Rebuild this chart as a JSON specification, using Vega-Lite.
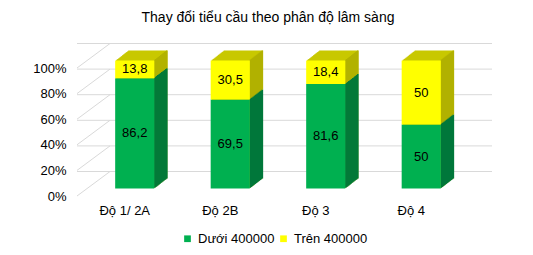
{
  "$schema": "https://vega.github.io/schema/vega-lite/v6.json",
  "width": 382,
  "height": 128,
  "autosize": "none",
  "padding": {"left": 77, "top": 68, "right": 74, "bottom": 59},
  "background": "white",
  "title": {"text": "Thay đổi tiểu cầu theo phân độ lâm sàng", "font": "Liberation Sans", "fontSize": 14, "fontWeight": "normal", "color": "#000000", "anchor": "middle", "offset": 18},
  "config": {
    "view": {"stroke": null},
    "font": "Liberation Sans",
    "locale": {"number": {"decimal": ",", "thousands": ".", "grouping": [3], "currency": ["", ""]}},
    "axisX": {"domain": false, "ticks": false, "grid": false, "labelAngle": 0, "labelPadding": 8, "labelFontSize": 13, "labelColor": "#000000", "labelFont": "Liberation Sans"},
    "axisY": {"domain": false, "ticks": false, "grid": false, "labelExpr": "datum.value + '%'", "labelPadding": 11, "labelFontSize": 13, "labelColor": "#000000", "labelFont": "Liberation Sans"}
  },
  "data": {"values": [
    {"cat": "Độ 1/ 2A", "series": "Dưới 400000", "value": 86.2},
    {"cat": "Độ 1/ 2A", "series": "Trên 400000", "value": 13.8},
    {"cat": "Độ 2B", "series": "Dưới 400000", "value": 69.5},
    {"cat": "Độ 2B", "series": "Trên 400000", "value": 30.5},
    {"cat": "Độ 3", "series": "Dưới 400000", "value": 81.6},
    {"cat": "Độ 3", "series": "Trên 400000", "value": 18.4},
    {"cat": "Độ 4", "series": "Dưới 400000", "value": 50},
    {"cat": "Độ 4", "series": "Trên 400000", "value": 50}
  ]},
  "layer": [
    {"data": {"values": [{"v": 0}, {"v": 20}, {"v": 40}, {"v": 60}, {"v": 80}, {"v": 100}]},
     "mark": {"type": "rule", "color": "#d9d9d9", "strokeWidth": 1, "xOffset": 33, "x2Offset": 33, "yOffset": -24.5},
     "encoding": {"y": {"field": "v", "type": "quantitative", "scale": {"domain": [0, 100]}, "axis": {"title": null, "values": [0, 20, 40, 60, 80, 100]}}}},
    {"data": {"values": [{"v": 0}, {"v": 20}, {"v": 40}, {"v": 60}, {"v": 80}, {"v": 100}]},
     "mark": {"type": "rule", "color": "#d9d9d9", "strokeWidth": 1, "y2Offset": -24.5},
     "encoding": {"x": {"value": 0}, "x2": {"value": 33}, "y": {"field": "v", "type": "quantitative", "axis": {"title": null, "values": [0, 20, 40, 60, 80, 100]}}, "y2": {"field": "v"}}},

    {"mark": {"type": "bar", "color": "#c8c800", "xOffset": 23, "yOffset": -17.5, "y2Offset": -17.5},
     "encoding": {"x": {"field": "cat", "type": "nominal", "sort": null, "scale": {"domain": ["Độ 1/ 2A", "Độ 2B", "Độ 3", "Độ 4"], "paddingInner": 0.59, "paddingOuter": 0.295}, "axis": {"title": null}}, "y": {"field": "value", "type": "quantitative", "stack": "zero", "axis": {"title": null, "values": [0, 20, 40, 60, 80, 100]}}, "detail": {"field": "series"}, "order": {"field": "series", "sort": "ascending"}}},
    {"mark": {"type": "bar", "color": "#c8c800", "xOffset": 22, "yOffset": -16.73, "y2Offset": -16.73},
     "encoding": {"x": {"field": "cat", "type": "nominal", "sort": null, "axis": {"title": null}}, "y": {"field": "value", "type": "quantitative", "stack": "zero", "axis": {"title": null, "values": [0, 20, 40, 60, 80, 100]}}, "detail": {"field": "series"}, "order": {"field": "series", "sort": "ascending"}}},
    {"mark": {"type": "bar", "color": "#c8c800", "xOffset": 21, "yOffset": -15.96, "y2Offset": -15.96},
     "encoding": {"x": {"field": "cat", "type": "nominal", "sort": null, "axis": {"title": null}}, "y": {"field": "value", "type": "quantitative", "stack": "zero", "axis": {"title": null, "values": [0, 20, 40, 60, 80, 100]}}, "detail": {"field": "series"}, "order": {"field": "series", "sort": "ascending"}}},
    {"mark": {"type": "bar", "color": "#c8c800", "xOffset": 20, "yOffset": -15.19, "y2Offset": -15.19},
     "encoding": {"x": {"field": "cat", "type": "nominal", "sort": null, "axis": {"title": null}}, "y": {"field": "value", "type": "quantitative", "stack": "zero", "axis": {"title": null, "values": [0, 20, 40, 60, 80, 100]}}, "detail": {"field": "series"}, "order": {"field": "series", "sort": "ascending"}}},
    {"mark": {"type": "bar", "color": "#c8c800", "xOffset": 19, "yOffset": -14.42, "y2Offset": -14.42},
     "encoding": {"x": {"field": "cat", "type": "nominal", "sort": null, "axis": {"title": null}}, "y": {"field": "value", "type": "quantitative", "stack": "zero", "axis": {"title": null, "values": [0, 20, 40, 60, 80, 100]}}, "detail": {"field": "series"}, "order": {"field": "series", "sort": "ascending"}}},
    {"mark": {"type": "bar", "color": "#c8c800", "xOffset": 18, "yOffset": -13.65, "y2Offset": -13.65},
     "encoding": {"x": {"field": "cat", "type": "nominal", "sort": null, "axis": {"title": null}}, "y": {"field": "value", "type": "quantitative", "stack": "zero", "axis": {"title": null, "values": [0, 20, 40, 60, 80, 100]}}, "detail": {"field": "series"}, "order": {"field": "series", "sort": "ascending"}}},
    {"mark": {"type": "bar", "color": "#c8c800", "xOffset": 17, "yOffset": -12.88, "y2Offset": -12.88},
     "encoding": {"x": {"field": "cat", "type": "nominal", "sort": null, "axis": {"title": null}}, "y": {"field": "value", "type": "quantitative", "stack": "zero", "axis": {"title": null, "values": [0, 20, 40, 60, 80, 100]}}, "detail": {"field": "series"}, "order": {"field": "series", "sort": "ascending"}}},
    {"mark": {"type": "bar", "color": "#c8c800", "xOffset": 16, "yOffset": -12.12, "y2Offset": -12.12},
     "encoding": {"x": {"field": "cat", "type": "nominal", "sort": null, "axis": {"title": null}}, "y": {"field": "value", "type": "quantitative", "stack": "zero", "axis": {"title": null, "values": [0, 20, 40, 60, 80, 100]}}, "detail": {"field": "series"}, "order": {"field": "series", "sort": "ascending"}}},
    {"mark": {"type": "bar", "color": "#c8c800", "xOffset": 15, "yOffset": -11.35, "y2Offset": -11.35},
     "encoding": {"x": {"field": "cat", "type": "nominal", "sort": null, "axis": {"title": null}}, "y": {"field": "value", "type": "quantitative", "stack": "zero", "axis": {"title": null, "values": [0, 20, 40, 60, 80, 100]}}, "detail": {"field": "series"}, "order": {"field": "series", "sort": "ascending"}}},
    {"mark": {"type": "bar", "color": "#c8c800", "xOffset": 14, "yOffset": -10.58, "y2Offset": -10.58},
     "encoding": {"x": {"field": "cat", "type": "nominal", "sort": null, "axis": {"title": null}}, "y": {"field": "value", "type": "quantitative", "stack": "zero", "axis": {"title": null, "values": [0, 20, 40, 60, 80, 100]}}, "detail": {"field": "series"}, "order": {"field": "series", "sort": "ascending"}}},
    {"mark": {"type": "bar", "color": "#c8c800", "xOffset": 13, "yOffset": -9.81, "y2Offset": -9.81},
     "encoding": {"x": {"field": "cat", "type": "nominal", "sort": null, "axis": {"title": null}}, "y": {"field": "value", "type": "quantitative", "stack": "zero", "axis": {"title": null, "values": [0, 20, 40, 60, 80, 100]}}, "detail": {"field": "series"}, "order": {"field": "series", "sort": "ascending"}}},
    {"mark": {"type": "bar", "color": "#c8c800", "xOffset": 12, "yOffset": -9.04, "y2Offset": -9.04},
     "encoding": {"x": {"field": "cat", "type": "nominal", "sort": null, "axis": {"title": null}}, "y": {"field": "value", "type": "quantitative", "stack": "zero", "axis": {"title": null, "values": [0, 20, 40, 60, 80, 100]}}, "detail": {"field": "series"}, "order": {"field": "series", "sort": "ascending"}}},
    {"mark": {"type": "bar", "color": "#c8c800", "xOffset": 11, "yOffset": -8.27, "y2Offset": -8.27},
     "encoding": {"x": {"field": "cat", "type": "nominal", "sort": null, "axis": {"title": null}}, "y": {"field": "value", "type": "quantitative", "stack": "zero", "axis": {"title": null, "values": [0, 20, 40, 60, 80, 100]}}, "detail": {"field": "series"}, "order": {"field": "series", "sort": "ascending"}}},

    {"mark": {"type": "bar", "width": 1.6, "xOffset": 30.1, "yOffset": -8.27, "y2Offset": -8.27},
     "encoding": {"x": {"field": "cat", "type": "nominal", "sort": null, "axis": {"title": null}}, "y": {"field": "value", "type": "quantitative", "stack": "zero", "axis": {"title": null, "values": [0, 20, 40, 60, 80, 100]}}, "detail": {"field": "series"}, "order": {"field": "series", "sort": "ascending"}, "color": {"condition": {"test": "datum.series === 'Dưới 400000'", "value": "#00783a"}, "value": "#b2b200"}}},
    {"mark": {"type": "bar", "width": 1.6, "xOffset": 31.1, "yOffset": -9.04, "y2Offset": -9.04},
     "encoding": {"x": {"field": "cat", "type": "nominal", "sort": null, "axis": {"title": null}}, "y": {"field": "value", "type": "quantitative", "stack": "zero", "axis": {"title": null, "values": [0, 20, 40, 60, 80, 100]}}, "detail": {"field": "series"}, "order": {"field": "series", "sort": "ascending"}, "color": {"condition": {"test": "datum.series === 'Dưới 400000'", "value": "#00783a"}, "value": "#b2b200"}}},
    {"mark": {"type": "bar", "width": 1.6, "xOffset": 32.1, "yOffset": -9.81, "y2Offset": -9.81},
     "encoding": {"x": {"field": "cat", "type": "nominal", "sort": null, "axis": {"title": null}}, "y": {"field": "value", "type": "quantitative", "stack": "zero", "axis": {"title": null, "values": [0, 20, 40, 60, 80, 100]}}, "detail": {"field": "series"}, "order": {"field": "series", "sort": "ascending"}, "color": {"condition": {"test": "datum.series === 'Dưới 400000'", "value": "#00783a"}, "value": "#b2b200"}}},
    {"mark": {"type": "bar", "width": 1.6, "xOffset": 33.1, "yOffset": -10.58, "y2Offset": -10.58},
     "encoding": {"x": {"field": "cat", "type": "nominal", "sort": null, "axis": {"title": null}}, "y": {"field": "value", "type": "quantitative", "stack": "zero", "axis": {"title": null, "values": [0, 20, 40, 60, 80, 100]}}, "detail": {"field": "series"}, "order": {"field": "series", "sort": "ascending"}, "color": {"condition": {"test": "datum.series === 'Dưới 400000'", "value": "#00783a"}, "value": "#b2b200"}}},
    {"mark": {"type": "bar", "width": 1.6, "xOffset": 34.1, "yOffset": -11.35, "y2Offset": -11.35},
     "encoding": {"x": {"field": "cat", "type": "nominal", "sort": null, "axis": {"title": null}}, "y": {"field": "value", "type": "quantitative", "stack": "zero", "axis": {"title": null, "values": [0, 20, 40, 60, 80, 100]}}, "detail": {"field": "series"}, "order": {"field": "series", "sort": "ascending"}, "color": {"condition": {"test": "datum.series === 'Dưới 400000'", "value": "#00783a"}, "value": "#b2b200"}}},
    {"mark": {"type": "bar", "width": 1.6, "xOffset": 35.1, "yOffset": -12.12, "y2Offset": -12.12},
     "encoding": {"x": {"field": "cat", "type": "nominal", "sort": null, "axis": {"title": null}}, "y": {"field": "value", "type": "quantitative", "stack": "zero", "axis": {"title": null, "values": [0, 20, 40, 60, 80, 100]}}, "detail": {"field": "series"}, "order": {"field": "series", "sort": "ascending"}, "color": {"condition": {"test": "datum.series === 'Dưới 400000'", "value": "#00783a"}, "value": "#b2b200"}}},
    {"mark": {"type": "bar", "width": 1.6, "xOffset": 36.1, "yOffset": -12.88, "y2Offset": -12.88},
     "encoding": {"x": {"field": "cat", "type": "nominal", "sort": null, "axis": {"title": null}}, "y": {"field": "value", "type": "quantitative", "stack": "zero", "axis": {"title": null, "values": [0, 20, 40, 60, 80, 100]}}, "detail": {"field": "series"}, "order": {"field": "series", "sort": "ascending"}, "color": {"condition": {"test": "datum.series === 'Dưới 400000'", "value": "#00783a"}, "value": "#b2b200"}}},
    {"mark": {"type": "bar", "width": 1.6, "xOffset": 37.1, "yOffset": -13.65, "y2Offset": -13.65},
     "encoding": {"x": {"field": "cat", "type": "nominal", "sort": null, "axis": {"title": null}}, "y": {"field": "value", "type": "quantitative", "stack": "zero", "axis": {"title": null, "values": [0, 20, 40, 60, 80, 100]}}, "detail": {"field": "series"}, "order": {"field": "series", "sort": "ascending"}, "color": {"condition": {"test": "datum.series === 'Dưới 400000'", "value": "#00783a"}, "value": "#b2b200"}}},
    {"mark": {"type": "bar", "width": 1.6, "xOffset": 38.1, "yOffset": -14.42, "y2Offset": -14.42},
     "encoding": {"x": {"field": "cat", "type": "nominal", "sort": null, "axis": {"title": null}}, "y": {"field": "value", "type": "quantitative", "stack": "zero", "axis": {"title": null, "values": [0, 20, 40, 60, 80, 100]}}, "detail": {"field": "series"}, "order": {"field": "series", "sort": "ascending"}, "color": {"condition": {"test": "datum.series === 'Dưới 400000'", "value": "#00783a"}, "value": "#b2b200"}}},
    {"mark": {"type": "bar", "width": 1.6, "xOffset": 39.1, "yOffset": -15.19, "y2Offset": -15.19},
     "encoding": {"x": {"field": "cat", "type": "nominal", "sort": null, "axis": {"title": null}}, "y": {"field": "value", "type": "quantitative", "stack": "zero", "axis": {"title": null, "values": [0, 20, 40, 60, 80, 100]}}, "detail": {"field": "series"}, "order": {"field": "series", "sort": "ascending"}, "color": {"condition": {"test": "datum.series === 'Dưới 400000'", "value": "#00783a"}, "value": "#b2b200"}}},
    {"mark": {"type": "bar", "width": 1.6, "xOffset": 40.1, "yOffset": -15.96, "y2Offset": -15.96},
     "encoding": {"x": {"field": "cat", "type": "nominal", "sort": null, "axis": {"title": null}}, "y": {"field": "value", "type": "quantitative", "stack": "zero", "axis": {"title": null, "values": [0, 20, 40, 60, 80, 100]}}, "detail": {"field": "series"}, "order": {"field": "series", "sort": "ascending"}, "color": {"condition": {"test": "datum.series === 'Dưới 400000'", "value": "#00783a"}, "value": "#b2b200"}}},
    {"mark": {"type": "bar", "width": 1.6, "xOffset": 41.1, "yOffset": -16.73, "y2Offset": -16.73},
     "encoding": {"x": {"field": "cat", "type": "nominal", "sort": null, "axis": {"title": null}}, "y": {"field": "value", "type": "quantitative", "stack": "zero", "axis": {"title": null, "values": [0, 20, 40, 60, 80, 100]}}, "detail": {"field": "series"}, "order": {"field": "series", "sort": "ascending"}, "color": {"condition": {"test": "datum.series === 'Dưới 400000'", "value": "#00783a"}, "value": "#b2b200"}}},
    {"mark": {"type": "bar", "width": 1.6, "xOffset": 42.1, "yOffset": -17.5, "y2Offset": -17.5},
     "encoding": {"x": {"field": "cat", "type": "nominal", "sort": null, "axis": {"title": null}}, "y": {"field": "value", "type": "quantitative", "stack": "zero", "axis": {"title": null, "values": [0, 20, 40, 60, 80, 100]}}, "detail": {"field": "series"}, "order": {"field": "series", "sort": "ascending"}, "color": {"condition": {"test": "datum.series === 'Dưới 400000'", "value": "#00783a"}, "value": "#b2b200"}}},

    {"mark": {"type": "bar", "xOffset": 10, "yOffset": -7.5, "y2Offset": -7.5},
     "encoding": {
       "x": {"field": "cat", "type": "nominal", "sort": null, "axis": {"title": null}},
       "y": {"field": "value", "type": "quantitative", "stack": "zero", "axis": {"title": null, "values": [0, 20, 40, 60, 80, 100]}},
       "color": {"field": "series", "type": "nominal", "scale": {"domain": ["Dưới 400000", "Trên 400000"], "range": ["#00b050", "#ffff00"]}, "legend": {"title": null, "orient": "none", "legendX": 104, "legendY": 164, "direction": "horizontal", "symbolType": "square", "symbolSize": 45, "symbolStrokeWidth": 0, "labelFontSize": 13, "labelFont": "Liberation Sans", "labelColor": "#000000", "labelOffset": 4, "columnPadding": 2}},
       "order": {"field": "series", "sort": "ascending"}
     }},
    {"transform": [
       {"stack": "value", "groupby": ["cat"], "sort": [{"field": "series", "order": "ascending"}], "as": ["v0", "v1"]},
       {"fold": ["v0", "v1"], "as": ["edge", "pos"]},
       {"aggregate": [{"op": "mean", "field": "pos", "as": "mid"}], "groupby": ["cat", "series", "value"]}
     ],
     "mark": {"type": "text", "dx": 10, "dy": -7.5, "fontSize": 13, "font": "Liberation Sans", "color": "#000000", "baseline": "middle", "align": "center"},
     "encoding": {
       "x": {"field": "cat", "type": "nominal", "sort": null, "axis": {"title": null}},
       "y": {"field": "mid", "type": "quantitative", "axis": {"title": null, "values": [0, 20, 40, 60, 80, 100]}},
       "text": {"field": "value", "type": "quantitative", "format": "~g"}
     }}
  ]
}
